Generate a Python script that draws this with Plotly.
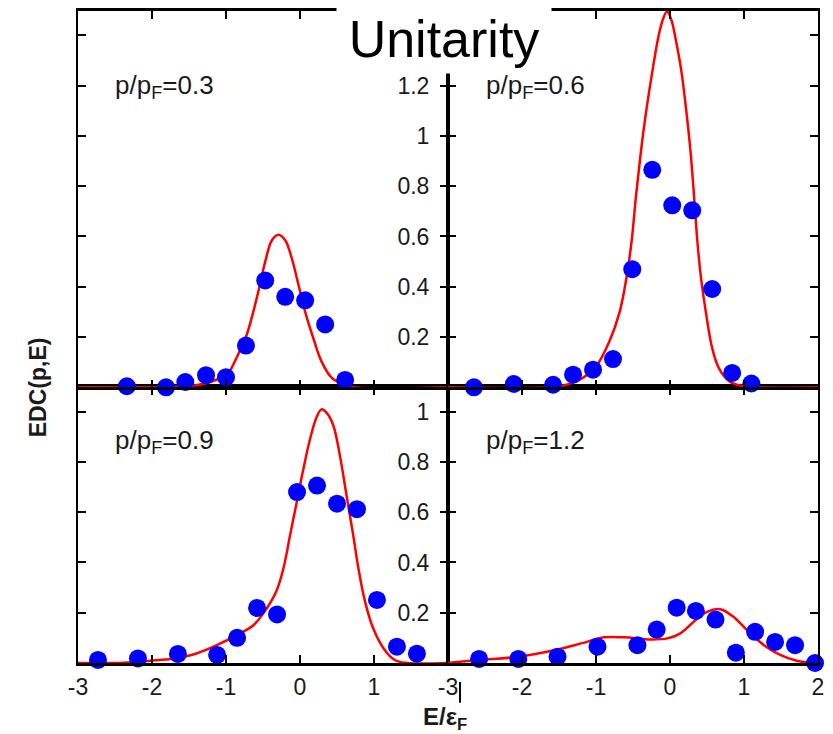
import plotly.graph_objects as go

# ---- measured EDC points (E/eps_F, EDC) for each momentum ----
e_03 = [-2.34, -1.81, -1.55, -1.27, -1.00, -0.73, -0.47, -0.20, 0.07, 0.34, 0.61]
d_03 = [0.004, 0.0, 0.021, 0.048, 0.040, 0.166, 0.425, 0.360, 0.346, 0.250, 0.029]

e_06 = [-2.65, -2.11, -1.58, -1.31, -1.04, -0.77, -0.51, -0.24, 0.03, 0.30, 0.57, 0.84, 1.10]
d_06 = [0.0, 0.013, 0.010, 0.050, 0.070, 0.112, 0.470, 0.865, 0.724, 0.704, 0.391, 0.057, 0.015]

e_09 = [-2.73, -2.19, -1.65, -1.12, -0.85, -0.58, -0.31, -0.04, 0.23, 0.50, 0.77, 1.04, 1.31, 1.58]
d_09 = [0.012, 0.018, 0.036, 0.032, 0.100, 0.219, 0.193, 0.680, 0.706, 0.634, 0.612, 0.251, 0.065, 0.037]

e_12 = [-2.58, -2.05, -1.52, -0.98, -0.44, -0.18, 0.09, 0.35, 0.615, 0.89, 1.15, 1.42, 1.69, 1.96]
d_12 = [0.016, 0.016, 0.025, 0.065, 0.071, 0.133, 0.220, 0.207, 0.173, 0.041, 0.124, 0.084, 0.071, 0.0]

# ---- theoretical curves ----
ce_03 = [-3.0, -2.0, -1.7, -1.44, -1.13, -0.97, -0.86, -0.72, -0.585, -0.47, -0.38, -0.29,
         -0.20, -0.11, -0.02, 0.07, 0.18, 0.29, 0.43, 0.585, 0.72, 2.0]
cd_03 = [0.0, 0.0, 0.002, 0.006, 0.030, 0.057, 0.116, 0.209, 0.354, 0.500, 0.585, 0.607,
         0.585, 0.512, 0.407, 0.300, 0.195, 0.103, 0.037, 0.011, 0.0, 0.0]

ce_06 = [-3.0, -1.6, -1.44, -1.22, -1.0, -0.82, -0.68, -0.59, -0.52, -0.46, -0.40, -0.34,
         -0.28, -0.22, -0.16, -0.10, -0.04, 0.02, 0.08, 0.15, 0.22, 0.28, 0.33, 0.37,
         0.42, 0.49, 0.57, 0.66, 0.80, 0.93, 1.15, 2.0]
cd_06 = [0.0, 0.0, 0.007, 0.030, 0.083, 0.182, 0.300, 0.433, 0.578, 0.760, 0.920, 1.060,
         1.180, 1.290, 1.390, 1.460, 1.495, 1.460, 1.380, 1.265, 1.100, 0.930, 0.740, 0.580,
         0.433, 0.288, 0.156, 0.076, 0.024, 0.008, 0.0, 0.0]

ce_09 = [-3.0, -2.39, -2.03, -1.71, -1.40, -1.125, -0.855, -0.63, -0.45, -0.32, -0.225,
         -0.135, -0.045, 0.045, 0.135, 0.22, 0.29, 0.36, 0.45, 0.54, 0.63, 0.72, 0.79,
         0.88, 0.99, 1.13, 1.28, 1.45, 2.0]
cd_09 = [0.0, 0.001, 0.009, 0.018, 0.038, 0.071, 0.111, 0.150, 0.217, 0.285, 0.375,
         0.507, 0.639, 0.771, 0.890, 0.975, 1.009, 0.995, 0.945, 0.824, 0.665, 0.507, 0.375,
         0.243, 0.137, 0.058, 0.012, 0.0, 0.0]

ce_12 = [-3.0, -2.59, -2.05, -1.52, -1.20, -0.89, -0.62, -0.30, -0.035, 0.14, 0.32, 0.50,
         0.68, 0.86, 1.04, 1.27, 1.49, 1.71, 1.94, 2.0]
cd_12 = [0.0, 0.012, 0.025, 0.054, 0.078, 0.102, 0.102, 0.094, 0.098, 0.118, 0.164, 0.203,
         0.214, 0.183, 0.131, 0.071, 0.032, 0.009, 0.0, 0.0]

panel_labels = ["p/p<sub>F</sub>=0.3", "p/p<sub>F</sub>=0.6", "p/p<sub>F</sub>=0.9", "p/p<sub>F</sub>=1.2"]

x_ticks_left = [-3, -2, -1, 0, 1]
x_ticks_right = [-3, -2, -1, 0, 1, 2]
y_ticks_top = [0.2, 0.4, 0.6, 0.8, 1.0, 1.2, 1.4]
y_text_top = ["0.2", "0.4", "0.6", "0.8", "1", "1.2", ""]
y_ticks_bot = [0.2, 0.4, 0.6, 0.8, 1.0]
y_text_bot = ["0.2", "0.4", "0.6", "0.8", "1"]

FONT = "Liberation Sans, Arial, sans-serif"
TXT = "#1a1a1a"
BLUE = "#0000ff"
RED = "#ff0000"

fig = go.Figure()

panels = [
    (ce_03, cd_03, e_03, d_03, "x3", "y3"),
    (ce_06, cd_06, e_06, d_06, "x4", "y4"),
    (ce_09, cd_09, e_09, d_09, "x", "y"),
    (ce_12, cd_12, e_12, d_12, "x2", "y2"),
]
for ce, cd, e, d, xa, ya in panels:
    fig.add_trace(go.Scatter(x=ce, y=cd, mode="lines", line=dict(color=RED, width=2.5, shape="spline"),
                             xaxis=xa, yaxis=ya, showlegend=False, hoverinfo="skip"))
    fig.add_trace(go.Scatter(x=e, y=d, mode="markers", marker=dict(color=BLUE, size=18, line=dict(width=0)),
                             xaxis=xa, yaxis=ya, showlegend=False, cliponaxis=False))

W, H = 833, 734
ML, MR, MT, MB = 78, 15, 8, 71
PW, PH = W - ML - MR, H - MT - MB
split = 277 / PH

tickfont = dict(family=FONT, size=23, color=TXT)
axis_common = dict(showline=True, linecolor="black", linewidth=2, mirror="ticks", ticks="inside",
                   ticklen=8, tickwidth=1.5, tickcolor="black", showgrid=False, zeroline=False,
                   tickfont=tickfont, fixedrange=True)

fig.update_layout(
    width=W, height=H, margin=dict(l=ML, r=MR, t=MT, b=MB),
    paper_bgcolor="white", plot_bgcolor="white",
    xaxis=dict(axis_common, domain=[0, 0.5], anchor="y", range=[-3, 2], tickvals=x_ticks_left,
               ticktext=[str(v) for v in x_ticks_left], ticklabelstandoff=1, linewidth=3),
    xaxis2=dict(axis_common, domain=[0.5, 1], anchor="y2", range=[-3, 2], tickvals=x_ticks_right,
                ticktext=[str(v) for v in x_ticks_right], ticklabelstandoff=1, linewidth=3),
    xaxis3=dict(axis_common, domain=[0, 0.5], anchor="y3", range=[-3, 2], tickvals=[-2, -1, 0, 1],
                showticklabels=False, linewidth=2.5),
    xaxis4=dict(axis_common, domain=[0.5, 1], anchor="y4", range=[-3, 2], tickvals=[-2, -1, 0, 1],
                showticklabels=False, linewidth=2.5),
    yaxis=dict(axis_common, domain=[0, split], anchor="x", range=[0, 277 / 252.5],
               tickvals=y_ticks_bot, showticklabels=False),
    yaxis2=dict(axis_common, domain=[0, split], anchor="x2", range=[0, 277 / 252.5],
                tickvals=y_ticks_bot, ticktext=y_text_bot, ticklabelstandoff=12),
    yaxis3=dict(axis_common, domain=[split, 1], anchor="x3", range=[0, 378 / 252.5],
                tickvals=y_ticks_top, showticklabels=False),
    yaxis4=dict(axis_common, domain=[split, 1], anchor="x4", range=[0, 378 / 252.5],
                tickvals=y_ticks_top, ticktext=y_text_top, ticklabelstandoff=12),
)


def px(xp):
    return (xp - ML) / PW


def py(yp):
    return (H - MB - yp) / PH


label_pos = [(113, 84), (484, 84), (113, 440), (484, 440)]
for txt, (lx, ly) in zip(panel_labels, label_pos):
    fig.add_annotation(text=txt, xref="paper", yref="paper", x=px(lx), y=py(ly),
                       xanchor="left", yanchor="middle", showarrow=False,
                       font=dict(family=FONT, size=26, color=TXT))

# axis titles
fig.add_annotation(text="<b>EDC(p,E)</b>", xref="paper", yref="paper", x=px(38), y=py(386),
                   xanchor="center", yanchor="middle", textangle=-90, showarrow=False,
                   font=dict(family=FONT, size=23, color=TXT))
fig.add_annotation(text="<b>E/ε<sub>F</sub></b>", xref="paper", yref="paper", x=px(445), y=py(719),
                   xanchor="center", yanchor="middle", showarrow=False,
                   font=dict(family=FONT, size=24, color=TXT))

# heading box over the top frame
fig.add_annotation(text="Unitarity", xref="paper", yref="paper", x=px(444), y=py(0),
                   xanchor="center", yanchor="top", width=212, height=67, bgcolor="white",
                   showarrow=False, font=dict(family=FONT, size=52, color="black"))

# small marker bar beside the central -3 tick label
fig.add_shape(type="line", xref="paper", yref="paper", x0=px(460), x1=px(460), y0=py(682), y1=py(703),
              line=dict(color="black", width=2))

fig.write_html("out.html")
